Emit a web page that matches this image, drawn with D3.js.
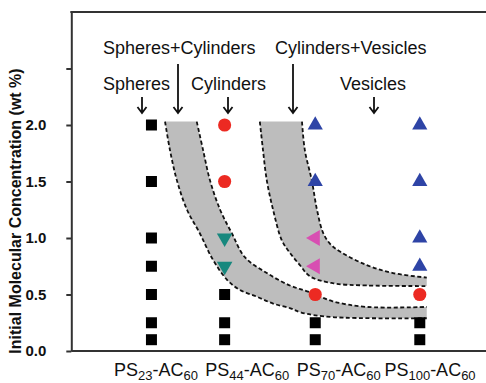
<!DOCTYPE html>
<html>
<head>
<meta charset="utf-8">
<script src="https://cdn.jsdelivr.net/npm/d3@7"></script>
<style>
  body { margin: 0; background: #fff; }
  text { font-family: "Liberation Sans", Arial, sans-serif; fill: #111; }
</style>
</head>
<body>
<div id="chart"></div>
<script>
// PS block length of each sample, and the x labels under them
var psLengths = [23, 44, 70, 100];
var xLabels = [["23", "60"], ["44", "60"], ["70", "60"], ["100", "60"]];
var yTicks = [0, 0.5, 1.0, 1.5, 2.0, 2.5];

// observed morphologies: [PS length, concentration wt %]
var spheres = [[23, 2.0], [23, 1.5], [23, 1.0], [23, 0.75], [23, 0.5], [23, 0.25], [23, 0.1],
               [44, 0.5], [44, 0.25], [44, 0.1], [70, 0.25], [70, 0.1], [100, 0.25], [100, 0.1]];
var cylinders = [[44, 2.0], [44, 1.5], [70, 0.5], [100, 0.5]];
var vesicles = [[70, 2.0], [70, 1.5], [100, 2.0], [100, 1.5], [100, 1.0], [100, 0.75]];
var spheresCylinders = [[44, 1.0], [44, 0.75]];
var cylindersVesicles = [[70, 1.0], [70, 0.75]];

// phase boundaries (dashed)
var band1Lower = [[26.9, 2.03], [28.3, 1.78], [30.3, 1.51], [33.2, 1.25], [36.9, 1.04], [40.6, 0.81],
                  [44.7, 0.63], [48.4, 0.54], [53.3, 0.48], [57.9, 0.42], [62.7, 0.38], [66, 0.34],
                  [75, 0.30], [102, 0.29]];
var band1Upper = [[36.0, 2.03], [37.8, 1.78], [39.8, 1.51], [42.7, 1.25], [46.1, 1.04], [49.8, 0.83],
                  [56.1, 0.69], [62.7, 0.58], [68.5, 0.52], [75, 0.44], [84.8, 0.39], [102, 0.39]];
var band2Lower = [[54.1, 2.03], [55.0, 1.78], [56.1, 1.51], [57.9, 1.25], [60.4, 0.98], [62.7, 0.87],
                  [65.6, 0.76], [68.5, 0.66], [75, 0.60], [84.8, 0.58], [102, 0.575]];
var band2Upper = [[66.2, 2.03], [67.0, 1.78], [69.0, 1.51], [70.5, 1.25], [72.2, 1.05], [74.2, 0.95],
                  [77.1, 0.88], [84.8, 0.76], [92.3, 0.69], [102, 0.65]];

var width = 486, height = 383;

var svg = d3.select("#chart").append("svg")
    .attr("width", width)
    .attr("height", height);

var x = d3.scaleLinear().domain([0, 119]).range([71.3, 486]);
var y = d3.scaleLinear().domain([0, 3]).range([351, 12]);
var xLab = d3.scalePoint().domain(xLabels.map(function(d) { return d[0]; })).range([156, 430]);

// grey bands + dashed boundaries
var line = d3.line()
    .x(function(d) { return x(d[0]); })
    .y(function(d) { return y(d[1]); })
    .curve(d3.curveCatmullRom.alpha(0.5));

[[band1Lower, band1Upper], [band2Lower, band2Upper]].forEach(function(b) {
    var outline = line(b[0]) + "L" + line(b[1].slice().reverse()).slice(1) + "Z";
    svg.append("path")
        .attr("d", outline)
        .attr("fill", "#bdbdbd")
        .attr("stroke", "none");
    b.forEach(function(edge) {
        svg.append("path")
            .attr("d", line(edge))
            .attr("fill", "none")
            .attr("stroke", "#111")
            .attr("stroke-width", 1.8)
            .attr("stroke-dasharray", "4,2.5");
    });
});

// axes
var yAxis = svg.append("g")
    .attr("transform", "translate(" + x(0) + ",0)")
    .call(d3.axisLeft(y).tickValues(yTicks).tickSize(5).tickSizeOuter(0).tickPadding(20)
        .tickFormat(function(d) { return d <= 2 ? d.toFixed(1) : ""; }));
yAxis.selectAll("path, line").attr("stroke", "#333").attr("stroke-width", 2);
yAxis.selectAll("text")
    .style("font-family", "'Liberation Sans', Arial, sans-serif")
    .style("font-size", "15px")
    .style("font-weight", "bold")
    .attr("fill", "#222");

svg.append("line")
    .attr("x1", x(0)).attr("x2", x(119))
    .attr("y1", y(0)).attr("y2", y(0))
    .attr("stroke", "#333").attr("stroke-width", 2);
svg.append("line")
    .attr("x1", x(0) - 1).attr("x2", x(119))
    .attr("y1", y(3)).attr("y2", y(3))
    .attr("stroke", "#333").attr("stroke-width", 2);

svg.append("text")
    .attr("transform", "translate(21,211) rotate(-90)")
    .attr("text-anchor", "middle")
    .style("font-size", "16px")
    .style("font-weight", "bold")
    .text("Initial Molecular Concentration (wt %)");

// x labels with subscripts
var xl = svg.selectAll(".xlab").data(xLabels).enter().append("text")
    .attr("class", "xlab")
    .attr("x", function(d) { return xLab(d[0]); })
    .attr("y", 376)
    .attr("text-anchor", "middle")
    .style("font-size", "18px");
xl.append("tspan").text("PS");
xl.append("tspan").attr("dy", 4).style("font-size", "13px").text(function(d) { return d[0]; });
xl.append("tspan").attr("dy", -4).text("-AC");
xl.append("tspan").attr("dy", 4).style("font-size", "13px").text(function(d) { return d[1]; });

// markers
function plotSymbols(data, type, size, rot, color) {
    svg.selectAll(null).data(data).enter().append("path")
        .attr("d", d3.symbol().type(type).size(size))
        .attr("transform", function(d) {
            return "translate(" + x(d[0]) + "," + y(d[1]) + ") rotate(" + rot + ")";
        })
        .attr("fill", color);
}
plotSymbols(spheres, d3.symbolSquare, 121, 0, "#000");
plotSymbols(cylinders, d3.symbolCircle, 135, 0, "#ec2a22");
plotSymbols(vesicles, d3.symbolTriangle, 100, 0, "#2e44a6");
plotSymbols(spheresCylinders, d3.symbolTriangle, 105, 180, "#17887e");
plotSymbols(cylindersVesicles, d3.symbolTriangle, 110, -90, "#d84fb2");

// annotations with arrows
var notes = [
    { text: "Spheres+Cylinders", tx: 103, ty: 54, ax: 178, ay0: 64 },
    { text: "Cylinders+Vesicles", tx: 275, ty: 54, ax: 293, ay0: 64 },
    { text: "Spheres", tx: 103, ty: 90, ax: 142, ay0: 97 },
    { text: "Cylinders", tx: 191, ty: 90, ax: 228, ay0: 97 },
    { text: "Vesicles", tx: 340, ty: 90, ax: 374, ay0: 97 }
];
svg.selectAll(".note").data(notes).enter().append("text")
    .attr("class", "note")
    .attr("x", function(d) { return d.tx; })
    .attr("y", function(d) { return d.ty; })
    .style("font-size", "18px")
    .text(function(d) { return d.text; });

svg.selectAll(".arrow").data(notes).enter().append("path")
    .attr("class", "arrow")
    .attr("d", function(d) {
        var tip = 113;
        return "M" + d.ax + "," + d.ay0 + "V" + tip +
            "M" + (d.ax - 4.5) + "," + (tip - 6) + "L" + d.ax + "," + tip + "L" + (d.ax + 4.5) + "," + (tip - 6);
    })
    .attr("fill", "none")
    .attr("stroke", "#111")
    .attr("stroke-width", 1.8);
</script>
</body>
</html>
